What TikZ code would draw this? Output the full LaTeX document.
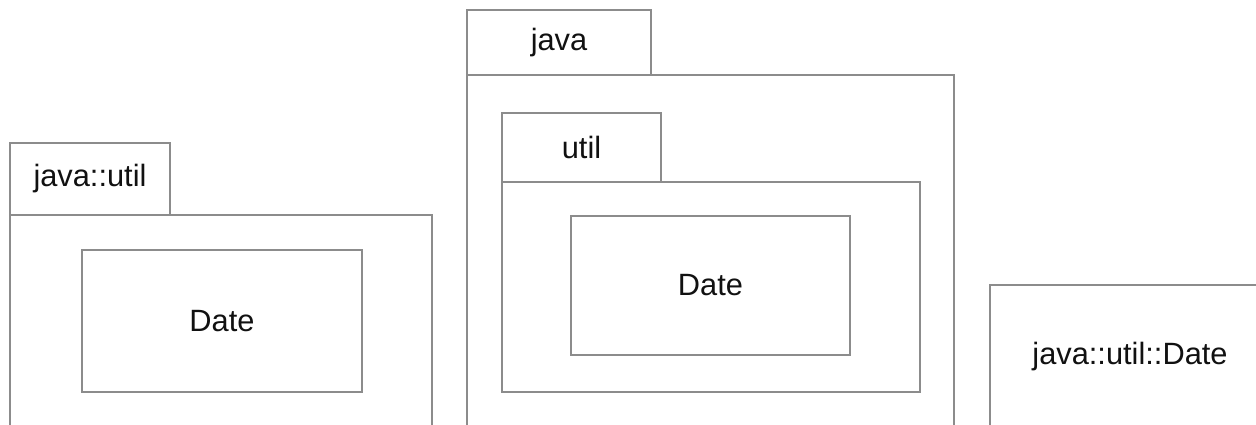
\documentclass[tikz,border=0pt]{standalone}
\usepackage{fontspec}
\setmainfont{Liberation Sans}
\usetikzlibrary{positioning}
\definecolor{edgegray}{HTML}{8C8C8C}
\definecolor{labelink}{HTML}{111111}
\tikzset{
    %Define standard box
    box/.style={
           rectangle,
           draw=edgegray,
           line width=2.4pt,
           anchor=north west,
           inner sep=0pt,
           outer sep=0pt,
           text=labelink,
           font=\fontsize{30.8}{36}\selectfont},
    %Define style for package tabs
    pkgtab/.style={
           box,
           minimum width=#1},
    %Define style for package bodies
    pkgbody/.style={
           box,
           minimum width=#1},
    classbox/.style={
           box,
           minimum width=#1}
}

\begin{document}
\begin{tikzpicture}[x=1pt,y=-1pt]
\useasboundingbox (0,0) rectangle (1256,424);
\clip (0,0) rectangle (1256,424);
% qualified package name
\node[pkgtab=160pt, minimum height=72pt] (jutab) at (10,143) {java::util};
\node[pkgbody=422pt, minimum height=260pt] (jubody) at (jutab.south west) {};
\node[classbox=280pt, minimum height=142pt] (date1) at (82,250) {Date};
% nested packages
\node[pkgtab=184pt, minimum height=65pt] (javatab) at (467,10) {java};
\node[pkgbody=487pt, minimum height=400pt] (javabody) at (javatab.south west) {};
\node[pkgtab=159pt, minimum height=69pt] (utiltab) at (502,113) {util};
\node[pkgbody=418pt, minimum height=210pt] (utilbody) at (utiltab.south west) {};
\node[classbox=279pt, minimum height=139pt] (date2) at (571,216) {Date};
% fully qualified class
\node[classbox=280pt, minimum height=144pt] (jud) at (990,285) {java::util::Date};
\end{tikzpicture}
\end{document}
